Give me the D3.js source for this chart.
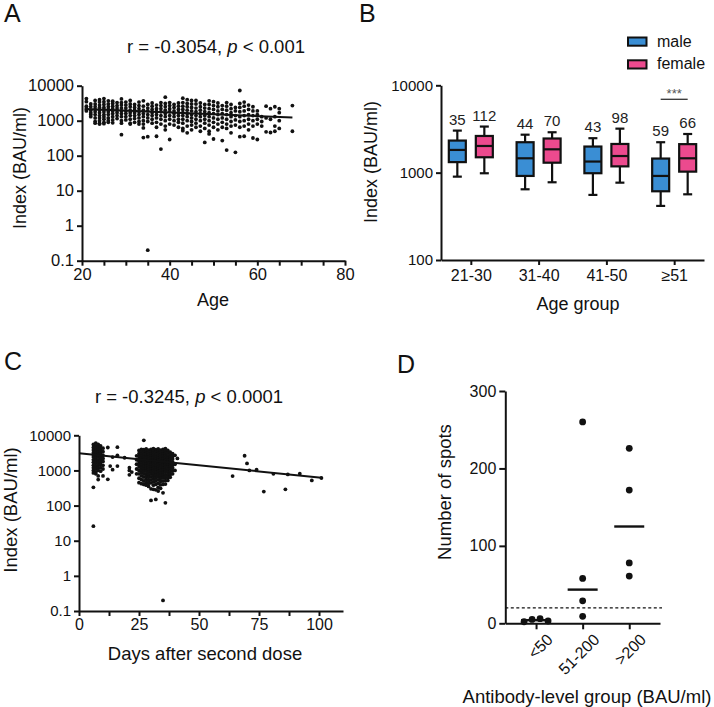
<!DOCTYPE html>
<html><head><meta charset="utf-8">
<script src="https://cdn.jsdelivr.net/npm/d3@7/dist/d3.min.js"></script>
<style>body{margin:0;background:#fff}svg{display:block}</style>
</head><body><svg id="c" width="714" height="707"></svg>
<script>
// ---------------- DATA ----------------
// Panel A: Index vs age (per-age lists of values, BAU/ml)
const agesA = [21,22,23,24,25,26,27,28,29,30,31,32,33,34,35,36,37,38,39,40,41,42,43,44,45,46,47,48,49,50,51,52,53,54,55,56,57,58,59,60,61,62,63,64,65,68];
const valuesA = [
 [4300,3500,2600,2100,1900,2300],
 [3000,2500,2000,1700,1500,1300],
 [3800,3000,2500,2100,1800,1500,1200,950,850],
 [4000,3400,2800,2400,2000,1700,1400,1200,1000,850,800],
 [4300,3500,2900,2400,2100,1800,1500,1300,1100,900,820],
 [3700,3000,2500,2100,1800,1500,1200,1000,900],
 [3600,3100,2600,2200,1900,1600,1300,1050,870],
 [3300,2700,2300,2000,1700,1400,1150],
 [4200,3300,2800,2300,1900,1600,1300,1000,850,400],
 [3400,2800,2300,1900,1600,1300,1050],
 [3800,3000,2500,2000,1700,1400,1100,850,800],
 [2900,2400,2000,1700,1400,1150,900],
 [3400,2700,2200,1800,1500,1200,950,800],
 [3700,2600,2000,1600,1300,1000,800,620,330],
 [2900,2300,1900,1500,1200,950,350,0.2],
 [3200,2600,2100,1700,1400,1100,850],
 [2800,2200,1800,1500,1200,900,650,360],
 [3300,2700,2200,1800,1400,1100,800,155],
 [4700,3100,2500,2000,1600,1300,1000,700,550],
 [3300,2700,2200,1800,1400,1100,800,290],
 [2900,2400,1900,1600,1300,1000,750],
 [3200,2600,2100,1700,1400,1100,900,650],
 [4400,3300,2600,2100,1700,1400,1100,850,600,520],
 [4000,3100,2500,2000,1600,1300,1000,700,450],
 [3800,3000,2400,1900,1500,1200,950,750,550],
 [3800,3000,2300,1800,1400,1100,850,650],
 [3200,2500,2000,1600,1300,1000,700,500],
 [2900,2300,1800,1400,1100,850,600,240],
 [3700,2900,2200,1700,1300,1000,750,500,420],
 [3500,2700,2100,1600,1200,900,650,300],
 [3200,2500,1900,1500,1100,800,550],
 [2700,2100,1600,1200,900,650,270],
 [3300,2600,2000,1500,1100,800,600,145],
 [2900,2200,1700,1300,950,700,450],
 [2400,1900,1400,1050,750,125],
 [7300,3100,2400,1800,1300,950,650,350],
 [3400,2600,1900,1400,1000,700,360],
 [2800,2100,1500,1100,800,550],
 [2500,1900,1400,1000,700,320],
 [1900,1500,1100,800,290],
 [1300,950,700],
 [2600,1200,480],
 [2200,1100,460],
 [2500,1300,700,500],
 [2200,1700,1000,600],
 [2700,500]
];
const fitA = [[21,2150],[68,1230]];
const titleA = ["r = -0.3054, ", "p", " < 0.001"];

// Panel B: box plots by age group and sex  [whiskerLow, Q1, median, Q3, whiskerHigh]
const groupsB = ["21-30","31-40","41-50","\u226551"];
const sexesB = ["male","female"];
const maleStats = [[900,1320,1820,2330,3030],[645,917,1460,2230,2720],[556,985,1340,1990,2480],[416,612,917,1450,2230]];
const femaleStats = [[984,1500,2020,2630,3370],[776,1300,1850,2460,2900],[768,1180,1550,2130,3190],[565,1027,1460,2120,2770]];
const maleN = [35,44,43,59];
const femaleN = [112,70,98,66];
const colorsB = ["#3a8ed4","#ec4a8e"];

// Panel C: Index vs days after second dose (per-day lists)
const daysC = [6,7,8,9,10,12,13,14,16,19,21,22,24,25,26,27,28,29,30,31,32,33,34,35,36,37,38,39,40,41,64,69,70,71,74,77,81,86,87,92,97,101];
const valuesC = [
 [5500,4500,3800,3200,2800,2400,2000,1700,1400,1200,1000,850,330,26],
 [6000,5000,4200,3500,3000,2600,2200,1900,1600,1300,1100,900,800],
 [5500,4600,3900,3300,2800,2400,2000,1700,1400,1200,1000,700,550],
 [5000,4200,3500,3000,2500,2100,1800,1500,1200,950],
 [4300,3400,2700,2200,1800,1400,1100,700],
 [4500,560],
 [1330],
 [2400,1050],
 [4600,2700,1330],
 [2300],
 [1200,1000,750],
 [900],
 [2600,2000,1500,1100,800],
 [3700,3000,2500,2100,1800,1500,1250,1000,800,600,450],
 [4000,3400,2900,2500,2200,1900,1650,1400,1200,1000,850,700,550,420],
 [7200,3900,3300,2800,2400,2100,1800,1550,1300,1100,950,800,650,500,400],
 [4100,3500,3000,2600,2300,2000,1750,1500,1300,1100,950,800,680,560,450,380],
 [3800,3200,2800,2400,2100,1850,1600,1400,1200,1050,900,760,640,520,430,350],
 [4000,3400,2900,2500,2200,1900,1650,1450,1250,1080,930,790,660,540,440,300,140],
 [4200,3600,3100,2700,2300,2000,1750,1500,1300,1120,960,820,700,580,470,380,290],
 [3900,3300,2800,2400,2100,1800,1560,1350,1160,1000,860,730,610,500,400,280,150],
 [4100,3500,3000,2600,2250,1950,1700,1450,1250,1080,920,780,660,540,430,330,260],
 [3800,3200,2700,2350,2050,1780,1540,1330,1150,990,850,720,600,490,390,310],
 [4000,3400,2900,2500,2150,1850,1600,1380,1190,1020,870,740,620,500,400,230,0.2],
 [4200,3500,3000,2550,2200,1900,1640,1410,1210,1040,890,750,630,510,410,120],
 [3700,3100,2600,2250,1950,1680,1450,1240,1060,900,760,630,520],
 [3300,2800,2400,2050,1750,1500,1280,1090,920,770,640],
 [3000,2500,2100,1750,1450,1200,980,800],
 [2700,1500,1000],
 [2200],
 [690],[2620],[1580],[1000],[1050],[250],[800],[290],[770],[810],[520],[610]
];
const fitC = [[0,3100],[101,620]];
const titleC = ["r = -0.3245, ", "p", " < 0.0001"];

// Panel D: number of spots by antibody-level group
const groupsD = ["<50","51-200",">200"];
const valuesD = [[2,5,6,3],[260,58,29,9],[226,172,78,61]];
const cutoffD = 20;

// tick values
const logTicks = [0.1,1,10,100,1000,10000];
const ticksAx = [20,25,30,35,40,45,50,55,60,65,70,75,80];
const labelsAx = [20,40,60,80];
const ticksBy = [100,1000,10000];
const ticksCx = [0,12.5,25,37.5,50,62.5,75,87.5,100];
const labelsCx = [0,25,50,75,100];
const ticksDy = [0,100,200,300];

// ---------------- DRAW ----------------
const FONT = '"Liberation Sans", Arial, Helvetica, sans-serif';
const INK = "#111";
const svg = d3.select("#c").style("font-family", FONT);

function styleAxis(g, fs) {
  g.selectAll("path.domain").attr("stroke", INK).attr("stroke-width", 2);
  g.selectAll(".tick line").attr("stroke", INK).attr("stroke-width", 2);
  g.selectAll(".tick text").attr("font-size", fs).attr("fill", INK).attr("font-family", FONT);
}
const fmtLog = d => d < 1 ? "0.1" : String(d);
function text(x, y, s, fs, anchor, rot) {
  const t = svg.append("text").attr("x", x).attr("y", y).attr("font-size", fs)
    .attr("fill", INK).attr("text-anchor", anchor || "middle").text(s);
  if (rot) t.attr("transform", `rotate(${rot},${x},${y})`);
  return t;
}
function title(x, y, parts, fs) {
  const t = svg.append("text").attr("x", x).attr("y", y).attr("font-size", fs)
    .attr("fill", INK).attr("text-anchor", "middle");
  parts.forEach((p, i) => t.append("tspan").attr("font-style", i === 1 ? "italic" : "normal").text(p));
}

// ===== Panel A =====
const xA = d3.scaleLinear().domain([20, 80]).range([82, 345]);
const yA = d3.scaleLog().domain([0.1, 10000]).range([260.7, 85.7]);
const ptsA = agesA.flatMap((a, i) => valuesA[i].map(v => [a, v]));
svg.append("g").selectAll("circle").data(ptsA).join("circle")
  .attr("cx", d => xA(d[0])).attr("cy", d => yA(d[1])).attr("r", 1.9).attr("fill", INK);
svg.append("path").datum(fitA).attr("fill", "none").attr("stroke", INK).attr("stroke-width", 2)
  .attr("d", d3.line().x(d => xA(d[0])).y(d => yA(d[1])));
styleAxis(svg.append("g").attr("transform", `translate(0,${yA(0.1)})`)
  .call(d3.axisBottom(xA).tickValues(ticksAx).tickFormat(d => labelsAx.includes(d) ? d : "").tickSize(5).tickSizeOuter(0).tickPadding(3)), 16.5);
styleAxis(svg.append("g").attr("transform", `translate(${xA(20)},0)`)
  .call(d3.axisLeft(yA).tickValues(logTicks).tickFormat(fmtLog).tickSize(5).tickSizeOuter(0).tickPadding(3)), 16.5);
text(213, 306, "Age", 18);
text(26, 168, "Index (BAU/ml)", 18, "middle", -90);
title(216, 53, titleA, 18.5);
text(4, 22, "A", 25, "start");

// ===== Panel B =====
const xB = d3.scalePoint().domain(groupsB).range([441, 704]).padding(0.44);
const yB = d3.scaleLog().domain([100, 10000]).range([260, 85.3]);
const offB = d3.scalePoint().domain(sexesB).range([-13.5, 13.5]);
const boxW = 17, capW = 9;
const boxes = [];
groupsB.forEach((g, i) => {
  boxes.push({g, sex: "male", s: maleStats[i], n: maleN[i], c: colorsB[0]});
  boxes.push({g, sex: "female", s: femaleStats[i], n: femaleN[i], c: colorsB[1]});
});
const bx = svg.append("g").selectAll("g").data(boxes).join("g")
  .attr("transform", d => `translate(${xB(d.g) + offB(d.sex)},0)`);
bx.append("line").attr("y1", d => yB(d.s[0])).attr("y2", d => yB(d.s[1])).attr("stroke", INK).attr("stroke-width", 2.2);
bx.append("line").attr("y1", d => yB(d.s[3])).attr("y2", d => yB(d.s[4])).attr("stroke", INK).attr("stroke-width", 2.2);
bx.append("line").attr("x1", -capW / 2).attr("x2", capW / 2).attr("y1", d => yB(d.s[0])).attr("y2", d => yB(d.s[0])).attr("stroke", INK).attr("stroke-width", 2.2);
bx.append("line").attr("x1", -capW / 2).attr("x2", capW / 2).attr("y1", d => yB(d.s[4])).attr("y2", d => yB(d.s[4])).attr("stroke", INK).attr("stroke-width", 2.2);
bx.append("rect").attr("x", -boxW / 2).attr("width", boxW)
  .attr("y", d => yB(d.s[3])).attr("height", d => yB(d.s[1]) - yB(d.s[3]))
  .attr("fill", d => d.c).attr("stroke", INK).attr("stroke-width", 2.2);
bx.append("line").attr("x1", -boxW / 2).attr("x2", boxW / 2).attr("y1", d => yB(d.s[2])).attr("y2", d => yB(d.s[2])).attr("stroke", INK).attr("stroke-width", 2.2);
bx.append("text").attr("y", d => yB(d.s[4]) - 6).attr("text-anchor", "middle").attr("font-size", 15).attr("fill", "#222").text(d => d.n);
styleAxis(svg.append("g").attr("transform", `translate(0,${yB(100)})`)
  .call(d3.axisBottom(xB).tickSize(5).tickSizeOuter(0).tickPadding(5)), 16);
styleAxis(svg.append("g").attr("transform", `translate(441,0)`)
  .call(d3.axisLeft(yB).tickValues(ticksBy).tickFormat(d => String(d)).tickSize(5).tickSizeOuter(0).tickPadding(3)), 15);
// significance
const sigG = groupsB[3];
svg.append("line").attr("x1", xB(sigG) + offB("male")).attr("x2", xB(sigG) + offB("female"))
  .attr("y1", 99.3).attr("y2", 99.3).attr("stroke", "#333").attr("stroke-width", 1.3);
text(xB(sigG), 98, "***", 13).attr("fill", "#555");
// legend
sexesB.forEach((s, i) => {
  svg.append("rect").attr("x", 628).attr("y", 37.5 + i * 22.8).attr("width", 18.5).attr("height", 8.2)
    .attr("fill", colorsB[i]).attr("stroke", INK).attr("stroke-width", 2);
  text(657, 46.5 + i * 22.8, s, 16, "start");
});
text(578, 310, "Age group", 18);
text(377, 162, "Index (BAU/ml)", 18, "middle", -90);
text(359, 22, "B", 25, "start");

// ===== Panel C =====
const xC = d3.scaleLinear().domain([0, 110]).range([79, 343]);
const yC = d3.scaleLog().domain([0.1, 10000]).range([611, 435.3]);
const ptsC = daysC.flatMap((a, i) => valuesC[i].map(v => [a, v]));
svg.append("g").selectAll("circle").data(ptsC).join("circle")
  .attr("cx", d => xC(d[0])).attr("cy", d => yC(d[1])).attr("r", 1.9).attr("fill", INK);
svg.append("path").datum(fitC).attr("fill", "none").attr("stroke", INK).attr("stroke-width", 2)
  .attr("d", d3.line().x(d => xC(d[0])).y(d => yC(d[1])));
styleAxis(svg.append("g").attr("transform", `translate(0,${yC(0.1)})`)
  .call(d3.axisBottom(xC).tickValues(ticksCx).tickFormat(d => labelsCx.includes(d) ? d : "").tickSize(5).tickSizeOuter(0).tickPadding(3)), 16);
styleAxis(svg.append("g").attr("transform", `translate(${xC(0)},0)`)
  .call(d3.axisLeft(yC).tickValues(logTicks).tickFormat(fmtLog).tickSize(5).tickSizeOuter(0).tickPadding(3)), 15);
text(205, 660, "Days after second dose", 18.5);
text(17, 510, "Index (BAU/ml)", 18.5, "middle", -90);
title(189, 403, titleC, 18.5);
text(4, 370, "C", 25, "start");

// ===== Panel D =====
const xD = d3.scalePoint().domain(groupsD).range([505.3, 660]).padding(0.66);
const yD = d3.scaleLinear().domain([0, 300]).range([623.3, 391]);
const rD = 3.4, spread = 8;
const ptsD = [];
groupsD.forEach((g, i) => {
  const vals = valuesD[i];
  const ys = vals.map(v => yD(v));
  let crowded = false;
  for (let a = 0; a < ys.length; a++) for (let b = a + 1; b < ys.length; b++)
    if (Math.abs(ys[a] - ys[b]) < 2 * rD) crowded = true;
  vals.forEach((v, j) => ptsD.push({g, v, dx: crowded ? (j - (vals.length - 1) / 2) * spread : 0}));
});
svg.append("line").attr("x1", xD.range()[0]).attr("x2", 662).attr("y1", yD(cutoffD)).attr("y2", yD(cutoffD))
  .attr("stroke", INK).attr("stroke-width", 1.3).attr("stroke-dasharray", "3,2.5");
svg.append("g").selectAll("circle").data(ptsD).join("circle")
  .attr("cx", d => xD(d.g) + d.dx).attr("cy", d => yD(d.v)).attr("r", rD).attr("fill", INK);
svg.append("g").selectAll("line").data(groupsD).join("line")
  .attr("x1", d => xD(d) - 15).attr("x2", d => xD(d) + 15)
  .attr("y1", (d, i) => yD(d3.median(valuesD[i]))).attr("y2", (d, i) => yD(d3.median(valuesD[i])))
  .attr("stroke", INK).attr("stroke-width", 2.4);
const gxD = svg.append("g").attr("transform", `translate(0,${yD(0)})`)
  .call(d3.axisBottom(xD).tickSize(6).tickSizeOuter(0).tickPadding(4));
styleAxis(gxD, 16);
gxD.selectAll(".tick text").attr("text-anchor", "end").attr("dy", "0.55em")
  .attr("transform", "translate(4,4) rotate(-45)");
styleAxis(svg.append("g").attr("transform", `translate(${xD.range()[0]},0)`)
  .call(d3.axisLeft(yD).tickValues(ticksDy).tickSize(6).tickSizeOuter(0).tickPadding(3)), 16);
text(587, 703, "Antibody-level group (BAU/ml)", 18.5);
text(451, 492, "Number of spots", 18.5, "middle", -90);
text(397, 373, "D", 25, "start");
</script></body></html>
